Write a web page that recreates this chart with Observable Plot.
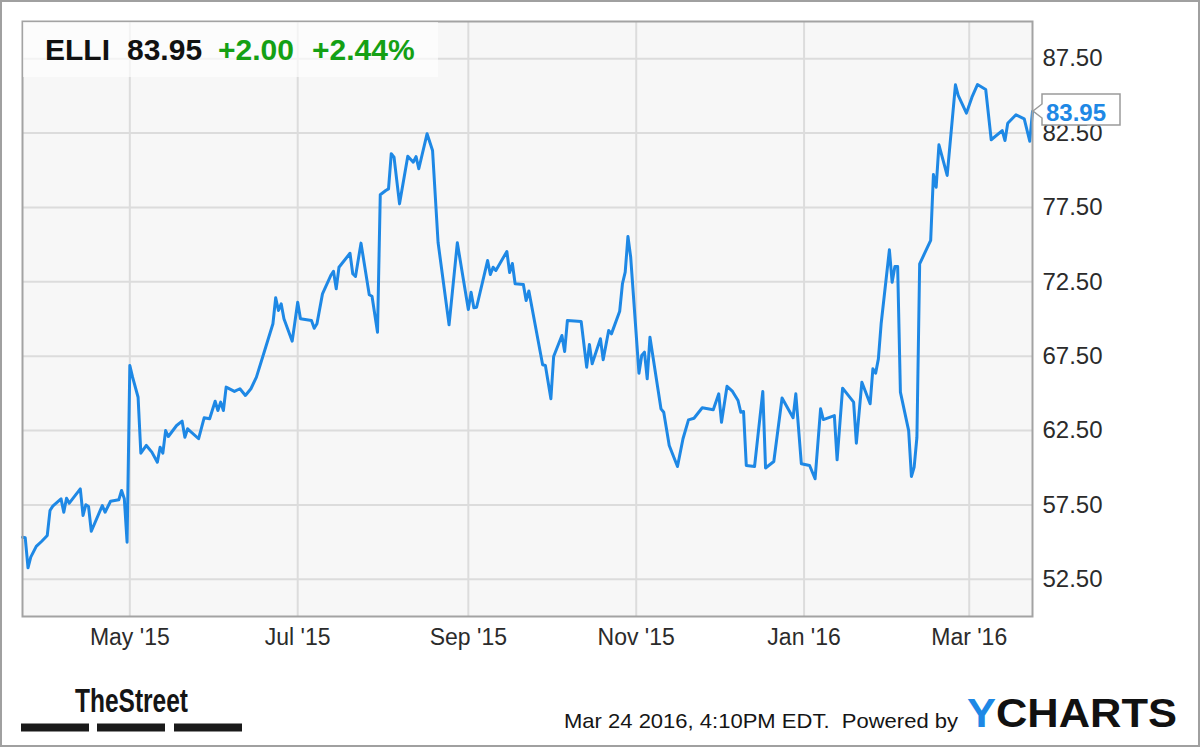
<!DOCTYPE html>
<html><head><meta charset="utf-8">
<script src="https://cdn.jsdelivr.net/npm/d3@7"></script>
<script src="https://cdn.jsdelivr.net/npm/@observablehq/plot@0.6"></script>
<style>
html,body{margin:0;padding:0;background:#fff;}
#wrap{position:relative;width:1200px;height:747px;overflow:hidden;background:#fff;}
#wrap > svg{position:absolute;left:0;top:0;}
#border{position:absolute;left:0;top:0;width:1200px;height:747px;box-sizing:border-box;border:2px solid #a0a0a0;pointer-events:none;z-index:5;}
</style></head>
<body><div id="wrap"><div id="border"></div></div>
<script>
// ---- data ----
const ticker = "ELLI";
const lastPriceText = "83.95";
const changeText = "+2.00";
const changePctText = "+2.44%";
const timestampText = "Mar 24 2016, 4:10PM EDT.  Powered by";

const dates = [
"2015-03-23","2015-03-24","2015-03-25","2015-03-26","2015-03-28","2015-03-30","2015-04-01","2015-04-02","2015-04-03","2015-04-06",
"2015-04-07","2015-04-08","2015-04-09","2015-04-13","2015-04-14","2015-04-15","2015-04-16","2015-04-17","2015-04-21","2015-04-22",
"2015-04-24","2015-04-27","2015-04-28","2015-04-29","2015-04-30","2015-05-01","2015-05-02","2015-05-04","2015-05-05","2015-05-07",
"2015-05-09","2015-05-11","2015-05-12","2015-05-13","2015-05-14","2015-05-15","2015-05-18","2015-05-20","2015-05-21","2015-05-22",
"2015-05-26","2015-05-28","2015-05-30","2015-06-01","2015-06-02","2015-06-03","2015-06-04","2015-06-05","2015-06-08","2015-06-10",
"2015-06-12","2015-06-14","2015-06-16","2015-06-19","2015-06-22","2015-06-23","2015-06-24","2015-06-25","2015-06-26","2015-06-29",
"2015-07-01","2015-07-02","2015-07-06","2015-07-07","2015-07-08","2015-07-10","2015-07-13","2015-07-14","2015-07-15","2015-07-16",
"2015-07-17","2015-07-20","2015-07-21","2015-07-22","2015-07-24","2015-07-27","2015-07-28","2015-07-30","2015-07-31","2015-08-02",
"2015-08-03","2015-08-04","2015-08-05","2015-08-07","2015-08-10","2015-08-12","2015-08-13","2015-08-14","2015-08-17","2015-08-19",
"2015-08-21","2015-08-25","2015-08-28","2015-09-01","2015-09-02","2015-09-03","2015-09-04","2015-09-08","2015-09-09","2015-09-10",
"2015-09-11","2015-09-15","2015-09-16","2015-09-17","2015-09-18","2015-09-21","2015-09-22","2015-09-23","2015-09-28","2015-09-29",
"2015-10-01","2015-10-02","2015-10-05","2015-10-06","2015-10-07","2015-10-12","2015-10-14","2015-10-15","2015-10-16","2015-10-19",
"2015-10-20","2015-10-22","2015-10-23","2015-10-26","2015-10-27","2015-10-28","2015-10-29","2015-10-30","2015-11-02","2015-11-03",
"2015-11-04","2015-11-05","2015-11-06","2015-11-10","2015-11-11","2015-11-13","2015-11-16","2015-11-18","2015-11-20","2015-11-22",
"2015-11-25","2015-11-29","2015-12-01","2015-12-02","2015-12-04","2015-12-06","2015-12-08","2015-12-09","2015-12-10","2015-12-11",
"2015-12-14","2015-12-17","2015-12-18","2015-12-21","2015-12-24","2015-12-28","2015-12-29","2015-12-31","2016-01-03","2016-01-05",
"2016-01-07","2016-01-08","2016-01-12","2016-01-13","2016-01-15","2016-01-19","2016-01-20","2016-01-22","2016-01-25","2016-01-26",
"2016-01-27","2016-01-28","2016-01-29","2016-02-01","2016-02-02","2016-02-03","2016-02-04","2016-02-05","2016-02-08","2016-02-09",
"2016-02-10","2016-02-11","2016-02-12","2016-02-16","2016-02-17","2016-02-18","2016-02-19","2016-02-22","2016-02-25","2016-02-26",
"2016-02-29","2016-03-02","2016-03-04","2016-03-07","2016-03-09","2016-03-13","2016-03-14","2016-03-15","2016-03-18","2016-03-21",
"2016-03-23","2016-03-24"
];
const closes = [
55.33,55.29,53.27,53.99,54.71,55.06,55.45,57.13,57.42,57.91,
57.01,57.95,57.62,58.58,56.79,57.51,57.39,55.73,57.46,57.01,
57.75,57.85,58.47,57.91,54.99,66.87,66.09,64.74,60.98,61.50,
61.05,60.37,61.38,60.98,62.50,62.10,62.84,63.13,62.05,62.62,
61.95,63.36,63.29,64.47,63.85,64.41,63.85,65.42,65.13,65.31,
64.86,65.31,66.09,67.88,69.68,71.43,70.57,71.02,70.01,68.51,
71.13,70.01,69.90,69.38,69.68,71.69,72.92,73.21,72.03,73.48,
73.71,74.42,73.04,72.86,75.10,71.63,71.53,69.11,78.35,78.64,
78.75,81.11,80.88,77.74,80.94,80.54,80.92,80.10,82.45,81.33,
75.16,69.61,75.12,70.64,71.80,70.75,70.79,73.93,72.99,73.48,
73.26,74.54,73.13,73.73,72.37,72.32,71.24,71.88,66.92,66.87,
64.64,67.48,68.89,67.82,69.90,69.83,66.76,68.29,66.99,68.67,
67.26,69.23,69.00,70.52,72.37,73.15,75.55,74.15,66.36,67.55,
67.77,65.98,68.78,63.96,63.73,61.50,60.08,61.95,63.22,63.33,
64.03,63.90,64.97,63.06,65.48,65.13,64.52,63.73,63.78,60.15,
60.08,65.13,59.98,60.42,64.69,63.36,64.97,60.27,60.15,59.26,
63.96,63.24,63.51,60.53,65.35,64.41,61.65,65.75,64.30,66.65,
66.36,67.32,69.68,74.65,72.47,73.53,73.53,65.08,62.50,59.41,
60.04,62.05,73.71,75.28,79.71,78.86,81.71,79.65,85.74,85.03,
83.84,84.91,85.76,85.43,82.05,82.67,82.00,83.16,83.73,83.46,
81.95,83.95
];
const xDomain = ["2015-03-23", "2016-03-24"];
const yDomain = [50, 90];
const yTicks = [52.5, 57.5, 62.5, 67.5, 72.5, 77.5, 82.5, 87.5];
const xTickDates = ["2015-05-01", "2015-07-01", "2015-09-01", "2015-11-01", "2016-01-01", "2016-03-01"];
const xTickLabels = ["May '15", "Jul '15", "Sep '15", "Nov '15", "Jan '16", "Mar '16"];

// ---- chart ----
const FONT = "'Liberation Sans', Arial, Helvetica, sans-serif";
const LINE = "#1e88e5";
const data = dates.map((d, i) => ({date: new Date(d), close: closes[i]}));
const xTicks = xTickDates.map(d => new Date(d));
const fmtX = d => xTickLabels[xTicks.findIndex(t => +t === +d)];

const chart = Plot.plot({
  width: 1200, height: 660,
  marginLeft: 22, marginRight: 168, marginTop: 21, marginBottom: 44,
  style: {fontFamily: FONT, fontSize: "23px", color: "#2b2b2b", background: "transparent", overflow: "visible"},
  x: {type: "utc", domain: xDomain.map(d => new Date(d)), label: null},
  y: {type: "linear", domain: yDomain, label: null},
  marks: [
    Plot.frame({fill: "#f7f7f7", stroke: "none"}),
    Plot.gridY(yTicks, {stroke: "#dcdcdc", strokeOpacity: 1, strokeWidth: 2}),
    Plot.gridX(xTicks, {stroke: "#dcdcdc", strokeOpacity: 1, strokeWidth: 2}),
    Plot.line(data, {x: "date", y: "close", stroke: LINE, strokeWidth: 3, strokeLinejoin: "round"}),
    Plot.frame({stroke: "#a3a3a3", strokeWidth: 2}),
    Plot.axisY(yTicks, {anchor: "right", tickSize: 0, tickPadding: 10, tickFormat: d3.format(".2f"), fontSize: 24, label: null}),
    Plot.axisX(xTicks, {anchor: "bottom", tickSize: 0, tickPadding: 12, tickFormat: fmtX, fontSize: 23, label: null})
  ]
});
const wrap = document.getElementById("wrap");
wrap.appendChild(chart);

// ---- overlay: header, price tag, footer ----
const sx = chart.scale("x"), sy = chart.scale("y");
const ov = d3.create("svg").attr("width", 1200).attr("height", 747)
  .style("font-family", FONT).style("pointer-events", "none");

// header box
ov.append("rect").attr("x", 23).attr("y", 22).attr("width", 415).attr("height", 55)
  .attr("fill", "#ffffff").attr("fill-opacity", 0.65);
const head = [
  {t: ticker, x: 45, c: "#111"},
  {t: lastPriceText, x: 127, c: "#111"},
  {t: changeText, x: 218, c: "#14a014"},
  {t: changePctText, x: 312, c: "#14a014"}
];
head.forEach(h => ov.append("text").attr("x", h.x).attr("y", 60).attr("fill", h.c)
  .attr("font-size", 30).attr("font-weight", "bold").text(h.t));

// last price tag
const last = data[data.length - 1];
const tx = sx.apply(last.date), ty = sy.apply(last.close);
ov.append("path")
  .attr("d", `M${tx + 1},${ty} L${tx + 10},${ty - 7} V${ty - 17} H${tx + 88} V${ty + 14} H${tx + 10} V${ty + 7} Z`)
  .attr("fill", "#fff").attr("stroke", "#9a9a9a").attr("stroke-width", 1.5);
ov.append("text").attr("x", tx + 14).attr("y", ty + 10).attr("fill", LINE)
  .attr("font-size", 24).attr("font-weight", "bold").text(last.close.toFixed(2));

// footer: TheStreet logo
ov.append("text").attr("x", 75).attr("y", 711.5).attr("fill", "#151515")
  .attr("font-size", 34).attr("font-weight", "bold")
  .attr("textLength", 113).attr("lengthAdjust", "spacingAndGlyphs").text("TheStreet");
[[21, 89], [97, 165], [174, 242]].forEach(([a, b]) =>
  ov.append("rect").attr("x", a).attr("y", 723.5).attr("width", b - a).attr("height", 8).attr("fill", "#1a1a1a"));

// footer: timestamp + YCHARTS
ov.append("text").attr("x", 564).attr("y", 728).attr("fill", "#151515")
  .attr("font-size", 21).style("white-space", "pre")
  .attr("textLength", 394).attr("lengthAdjust", "spacingAndGlyphs").text(timestampText);
const yc = ov.append("text").attr("x", 967).attr("y", 727).attr("font-size", 40).attr("font-weight", "bold")
  .attr("textLength", 210).attr("lengthAdjust", "spacingAndGlyphs");
yc.append("tspan").attr("fill", LINE).text("Y");
yc.append("tspan").attr("fill", "#111").text("CHARTS");

wrap.appendChild(ov.node());
</script>
</body></html>
